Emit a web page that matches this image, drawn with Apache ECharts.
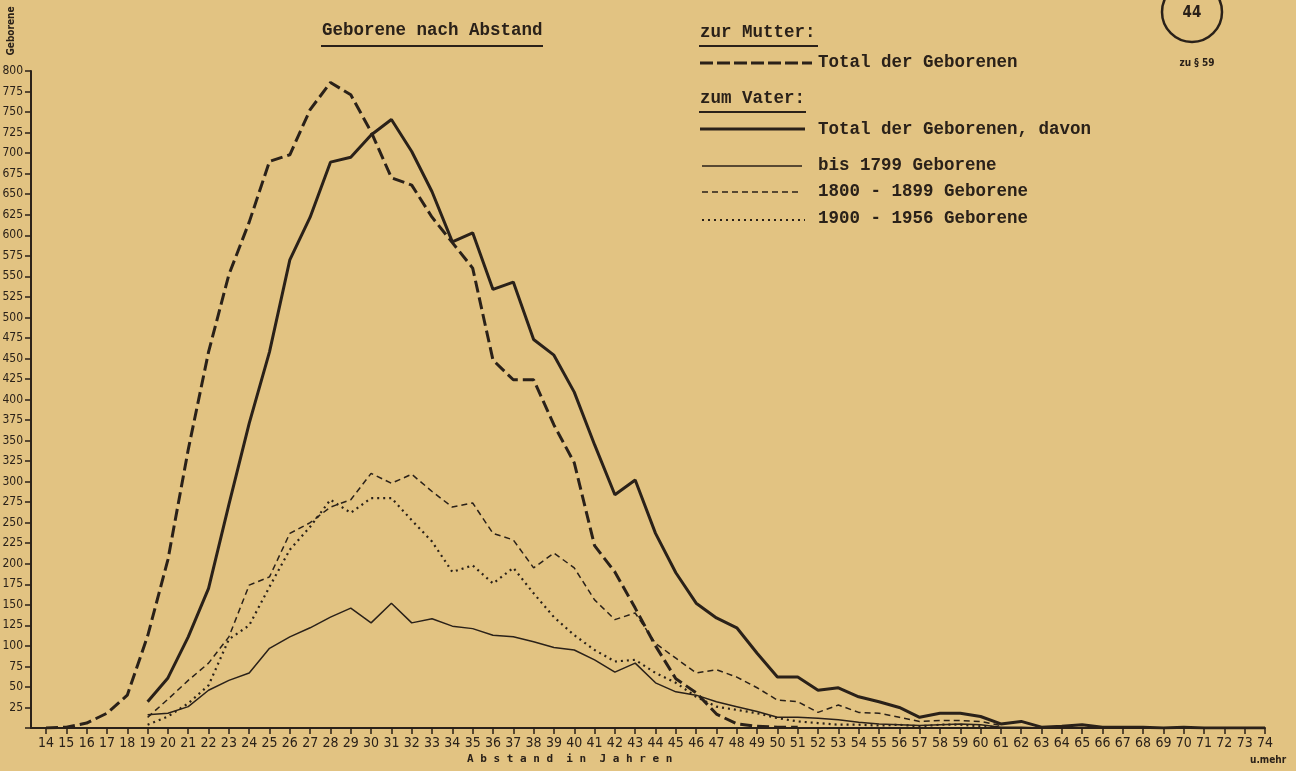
<!DOCTYPE html>
<html>
<head>
<meta charset="utf-8">
<script src="https://cdn.jsdelivr.net/npm/echarts@6/dist/echarts.min.js"></script>
<style>
html,body{margin:0;padding:0;background:#e2c382;}
#c{width:1296px;height:771px;}
</style>
</head>
<body>
<div id="c"></div>
<script>
// Ages (Abstand in Jahren)
const ages = [];
for (let a = 14; a <= 74; a++) ages.push(a);

// zur Mutter: Total der Geborenen (ages 14..51)
const mutterStart = 14;
const mutterTotal = [0,1,6,18,40,112,205,339,458,552,616,690,698,753,786,771,726,670,661,622,591,560,448,424,424,369,323,222,190,146,100,60,43,17,5,2,1,1];

// zum Vater (ages from 19)
const vaterStart = 19;
const vaterTotal = [32,61,111,170,272,371,458,570,622,689,695,722,741,702,653,592,603,534,543,473,454,409,345,284,302,237,189,152,134,122,91,62,62,46,49,38,32,25,13,18,18,14,5,8,1,2,4,1,1,1,0,1,0,0,0,0];
const bis1799 = [16,18,26,46,58,67,97,111,122,135,146,128,152,128,133,124,121,113,111,105,98,95,83,68,79,55,44,40,32,26,20,13,13,12,10,7,5,4,3,4,5,4,1,1,0];
const g1800_1899 = [13,35,58,79,111,174,184,237,250,269,278,310,298,309,288,269,274,237,229,195,213,195,156,132,140,103,85,67,71,62,49,34,32,19,28,19,18,13,8,9,9,8,3];
const g1900_1956 = [4,14,30,52,108,125,172,217,245,278,262,280,280,253,227,190,198,176,195,164,135,113,95,81,83,67,55,38,26,22,18,12,8,6,4,4,3,4,2,4,4,2,1];

function pairs(start, vals){ return vals.map((v,i)=>[start+i, v]); }

const ink = '#2a2119';
const mono = "'Liberation Mono','DejaVu Sans Mono',monospace";
const smono = "'DejaVu Sans Mono',monospace";
const narrow = "'Liberation Sans Narrow','DejaVu Sans Condensed','DejaVu Sans',sans-serif";

const chart = echarts.init(document.getElementById('c'), null, {renderer:'canvas'});

function legLine(x1,x2,y,w,dash){
  return {type:'line', shape:{x1:x1,y1:y,x2:x2,y2:y}, style:{stroke:ink, lineWidth:w, lineDash:dash||null}, silent:true};
}
function txt(x,y,s,font,align,rot){
  return {type:'text', x:x, y:y, rotation:rot||0, style:{text:s, font:font, fill:ink, align:align||'left', verticalAlign:'middle'}, silent:true};
}
const lf = 'bold 17.5px '+mono;

chart.setOption({
  backgroundColor:'#e2c382',
  animation:false,
  grid:{left:31, right:31, top:71, bottom:43, containLabel:false, outerBoundsMode:'none'},
  xAxis:{
    type:'value', min:13.26, max:74,
    axisLine:{show:true, lineStyle:{color:ink, width:2}},
    axisTick:{show:true, customValues:ages, length:6, lineStyle:{color:ink, width:1.5}},
    axisLabel:{show:true, customValues:ages, color:ink, fontFamily:narrow, fontSize:14, margin:8},
    splitLine:{show:false}
  },
  yAxis:{
    type:'value', min:0, max:800, interval:25,
    axisLine:{show:true, lineStyle:{color:ink, width:2}},
    axisTick:{show:true, length:6, lineStyle:{color:ink, width:1.5}},
    axisLabel:{color:ink, fontFamily:narrow, fontSize:12, margin:8,
      formatter:function(v){ return v===0 ? '' : String(v); }},
    splitLine:{show:false}
  },
  series:[
    {name:'zur Mutter: Total der Geborenen', type:'line', symbol:'none', data:pairs(mutterStart, mutterTotal),
      lineStyle:{color:ink, width:3, type:[12,5]}},
    {name:'zum Vater: Total der Geborenen', type:'line', symbol:'none', data:pairs(vaterStart, vaterTotal),
      lineStyle:{color:ink, width:3}},
    {name:'bis 1799 Geborene', type:'line', symbol:'none', data:pairs(vaterStart, bis1799),
      lineStyle:{color:ink, width:1.5}},
    {name:'1800 - 1899 Geborene', type:'line', symbol:'none', data:pairs(vaterStart, g1800_1899),
      lineStyle:{color:ink, width:1.5, type:[6,4]}},
    {name:'1900 - 1956 Geborene', type:'line', symbol:'none', data:pairs(vaterStart, g1900_1956),
      lineStyle:{color:ink, width:2.2, type:[2,4]}}
  ],
  graphic:[
    txt(322,31,'Geborene nach Abstand',lf),
    legLine(321,543,46,2),
    txt(700,33,'zur Mutter:',lf),
    legLine(699,818,46,2),
    legLine(700,812,63,3,[13,4]),
    txt(818,63,'Total der Geborenen',lf),
    txt(700,99,'zum Vater:',lf),
    legLine(699,806,112,2),
    legLine(700,805,129,3),
    txt(818,130,'Total der Geborenen, davon',lf),
    legLine(702,802,166,1.5),
    txt(818,166,'bis 1799 Geborene',lf),
    legLine(702,800,192,1.5,[6,4]),
    txt(818,192,'1800 - 1899 Geborene',lf),
    legLine(702,805,220,2.2,[2,4]),
    txt(818,219,'1900 - 1956 Geborene',lf),
    {type:'circle', shape:{cx:1192, cy:12, r:30}, style:{stroke:ink, lineWidth:2.5, fill:null}, silent:true},
    txt(1192,13,'44','bold 15px '+narrow,'center'),
    txt(1197,63,'zu § 59','bold 10px '+narrow,'center'),
    txt(11,31,'Geborene','bold 10px '+narrow,'center',Math.PI/2),
    txt(467,759,'A b s t a n d  i n  J a h r e n','bold 11px '+smono),
    txt(1250,760,'u.mehr','bold 10px '+narrow)
  ]
});
</script>
</body>
</html>
